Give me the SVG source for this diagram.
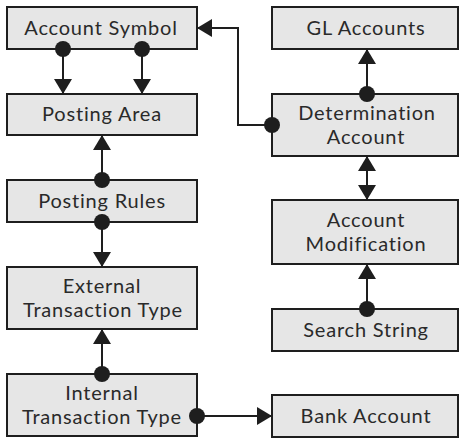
<svg xmlns="http://www.w3.org/2000/svg" width="461" height="438" viewBox="0 0 461 438">
  <style>
    .box { fill: #e6e6e6; stroke: #1e1e1e; stroke-width: 2; }
    .lbl { font-family: Lato, "Open Sans", sans-serif; font-size: 20px; letter-spacing: 0.8px; fill: #2a2a2a; text-anchor: middle; }
    .conn { fill: none; stroke: #1e1e1e; stroke-width: 2; }
    .arr { marker-end: url(#tip); }
    .dot { marker-start: url(#dot); }
    .back { marker-start: url(#tipStart); }
  </style>
  <defs>
    <marker id="tip" markerUnits="userSpaceOnUse" markerWidth="16" markerHeight="18" refX="15" refY="9" orient="auto" overflow="visible">
      <path d="M0,0 L15,9 L0,18 Z" fill="#1e1e1e"/>
    </marker>
    <marker id="tipStart" markerUnits="userSpaceOnUse" markerWidth="16" markerHeight="18" refX="0" refY="9" orient="auto" overflow="visible">
      <path d="M15,0 L0,9 L15,18 Z" fill="#1e1e1e"/>
    </marker>
    <marker id="dot" markerUnits="userSpaceOnUse" markerWidth="18" markerHeight="18" refX="9" refY="9" overflow="visible">
      <circle cx="9" cy="9" r="8" fill="#1e1e1e"/>
    </marker>
  </defs>

  <!-- left column -->
  <g id="account-symbol">
    <rect class="box" x="7" y="7" width="190" height="42"/>
    <text class="lbl" x="101" y="35">Account Symbol</text>
  </g>
  <g id="posting-area">
    <rect class="box" x="7" y="94" width="190" height="41"/>
    <text class="lbl" x="102" y="121">Posting Area</text>
  </g>
  <g id="posting-rules">
    <rect class="box" x="7" y="180" width="190" height="42"/>
    <text class="lbl" x="102" y="208">Posting Rules</text>
  </g>
  <g id="external-transaction-type">
    <rect class="box" x="7" y="267" width="190" height="62"/>
    <text class="lbl" x="102" y="293">External</text>
    <text class="lbl" x="103" y="317">Transaction Type</text>
  </g>
  <g id="internal-transaction-type">
    <rect class="box" x="7" y="374" width="190" height="62"/>
    <text class="lbl" x="102" y="400">Internal</text>
    <text class="lbl" x="102" y="424">Transaction Type</text>
  </g>

  <!-- right column -->
  <g id="gl-accounts">
    <rect class="box" x="272" y="7" width="186" height="42"/>
    <text class="lbl" x="366" y="35">GL Accounts</text>
  </g>
  <g id="determination-account">
    <rect class="box" x="272" y="94" width="186" height="62"/>
    <text class="lbl" x="367" y="120">Determination</text>
    <text class="lbl" x="366" y="144">Account</text>
  </g>
  <g id="account-modification">
    <rect class="box" x="272" y="200" width="186" height="64"/>
    <text class="lbl" x="366" y="227">Account</text>
    <text class="lbl" x="366" y="251">Modification</text>
  </g>
  <g id="search-string">
    <rect class="box" x="272" y="309" width="186" height="42"/>
    <text class="lbl" x="366" y="337">Search String</text>
  </g>
  <g id="bank-account">
    <rect class="box" x="272" y="395" width="186" height="42"/>
    <text class="lbl" x="366" y="423">Bank Account</text>
  </g>

  <!-- connectors -->
  <g id="connectors">
    <path class="conn dot arr" d="M63,49 V94"/>
    <path class="conn dot arr" d="M142,49 V94"/>
    <path class="conn dot arr" d="M102,180 V135"/>
    <path class="conn dot arr" d="M102,222 V267"/>
    <path class="conn dot arr" d="M102,374 V329"/>
    <path class="conn dot arr" d="M197,416 H272"/>
    <path class="conn dot arr" d="M272,125 H238 V28 H197"/>
    <path class="conn dot arr" d="M367,94 V49"/>
    <path class="conn back arr" d="M367,156 V200"/>
    <path class="conn dot arr" d="M367,309 V264"/>
  </g>
</svg>
